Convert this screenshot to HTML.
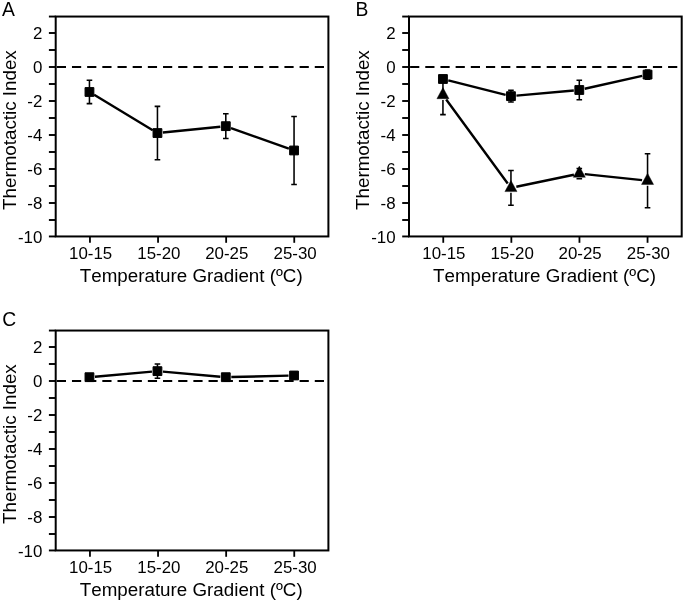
<!DOCTYPE html>
<html><head><meta charset="utf-8"><style>
html,body{margin:0;padding:0;background:#fff;}
body{width:685px;height:602px;overflow:hidden;}
svg{display:block;filter:grayscale(1);}
text{font-family:"Liberation Sans",sans-serif;fill:#000;font-kerning:none;font-feature-settings:"kern" 0;}
.t{font-size:16.9px;}
.ti{font-size:18.8px;}
.ti2{font-size:18.8px;}
.lt{font-size:19.3px;}
</style></head><body>
<svg width="685" height="602" viewBox="0 0 685 602">
<rect width="685" height="602" fill="#fff"/>
<rect x="55.70" y="16.55" width="272.70" height="219.90" fill="none" stroke="#000" stroke-width="2.0"/>
<line x1="48.90" y1="16.55" x2="55.70" y2="16.55" stroke="#000" stroke-width="1.9"/>
<line x1="48.90" y1="33.00" x2="55.70" y2="33.00" stroke="#000" stroke-width="1.9"/>
<line x1="48.90" y1="50.00" x2="55.70" y2="50.00" stroke="#000" stroke-width="1.9"/>
<line x1="48.90" y1="67.00" x2="55.70" y2="67.00" stroke="#000" stroke-width="1.9"/>
<line x1="48.90" y1="84.00" x2="55.70" y2="84.00" stroke="#000" stroke-width="1.9"/>
<line x1="48.90" y1="101.00" x2="55.70" y2="101.00" stroke="#000" stroke-width="1.9"/>
<line x1="48.90" y1="118.00" x2="55.70" y2="118.00" stroke="#000" stroke-width="1.9"/>
<line x1="48.90" y1="135.00" x2="55.70" y2="135.00" stroke="#000" stroke-width="1.9"/>
<line x1="48.90" y1="152.00" x2="55.70" y2="152.00" stroke="#000" stroke-width="1.9"/>
<line x1="48.90" y1="169.00" x2="55.70" y2="169.00" stroke="#000" stroke-width="1.9"/>
<line x1="48.90" y1="186.00" x2="55.70" y2="186.00" stroke="#000" stroke-width="1.9"/>
<line x1="48.90" y1="203.00" x2="55.70" y2="203.00" stroke="#000" stroke-width="1.9"/>
<line x1="48.90" y1="220.00" x2="55.70" y2="220.00" stroke="#000" stroke-width="1.9"/>
<line x1="48.90" y1="236.45" x2="55.70" y2="236.45" stroke="#000" stroke-width="1.9"/>
<text transform="translate(42.30,39.30) scale(1,1.03)" class="t" text-anchor="end">2</text>
<text transform="translate(42.30,73.30) scale(1,1.03)" class="t" text-anchor="end">0</text>
<text transform="translate(42.30,107.30) scale(1,1.03)" class="t" text-anchor="end">-2</text>
<text transform="translate(42.30,141.30) scale(1,1.03)" class="t" text-anchor="end">-4</text>
<text transform="translate(42.30,175.30) scale(1,1.03)" class="t" text-anchor="end">-6</text>
<text transform="translate(42.30,209.30) scale(1,1.03)" class="t" text-anchor="end">-8</text>
<text transform="translate(42.30,243.30) scale(1,1.03)" class="t" text-anchor="end">-10</text>
<line x1="89.95" y1="236.45" x2="89.95" y2="242.80" stroke="#000" stroke-width="1.8"/>
<text transform="translate(90.60,259.20) scale(1,1.03)" class="t" text-anchor="middle">10-15</text>
<line x1="158.05" y1="236.45" x2="158.05" y2="242.80" stroke="#000" stroke-width="1.8"/>
<text transform="translate(158.90,259.20) scale(1,1.03)" class="t" text-anchor="middle">15-20</text>
<line x1="226.15" y1="236.45" x2="226.15" y2="242.80" stroke="#000" stroke-width="1.8"/>
<text transform="translate(226.80,259.20) scale(1,1.03)" class="t" text-anchor="middle">20-25</text>
<line x1="294.25" y1="236.45" x2="294.25" y2="242.80" stroke="#000" stroke-width="1.8"/>
<text transform="translate(295.10,259.20) scale(1,1.03)" class="t" text-anchor="middle">25-30</text>
<text transform="translate(191.20,281.50) scale(1,1.02)" class="ti" text-anchor="middle">Temperature Gradient (ºC)</text>
<text transform="translate(15.90,130.10) rotate(-90) scale(1,1.02)" class="ti2" text-anchor="middle">Thermotactic Index</text>
<line x1="56.80" y1="67.00" x2="327.40" y2="67.00" stroke="#000" stroke-width="2" stroke-dasharray="9.2 5.975"/>
<text transform="translate(2.00,15.80) scale(1,1.03)" class="lt">A</text>
<path d="M94.16,94.83 L152.74,130.20 M162.92,132.49 L220.33,126.71 M230.98,128.01 L288.87,148.62" fill="none" stroke="#000" stroke-width="2.4"/>
<path d="M89.45,91.99 V80.34 M86.65,80.34 H92.25 M89.45,91.99 V103.64 M86.65,103.64 H92.25" stroke="#000" stroke-width="1.55" fill="none"/>
<path d="M157.45,133.05 V106.39 M154.65,106.39 H160.25 M157.45,133.05 V159.70 M154.65,159.70 H160.25" stroke="#000" stroke-width="1.55" fill="none"/>
<path d="M225.80,126.16 V113.75 M223.00,113.75 H228.60 M225.80,126.16 V138.57 M223.00,138.57 H228.60" stroke="#000" stroke-width="1.55" fill="none"/>
<path d="M294.05,150.47 V116.47 M291.25,116.47 H296.85 M294.05,150.47 V184.47 M291.25,184.47 H296.85" stroke="#000" stroke-width="1.55" fill="none"/>
<rect x="85.05" y="87.59" width="8.8" height="8.8" fill="#000" stroke="#000" stroke-width="1" stroke-linejoin="round"/>
<rect x="153.05" y="128.65" width="8.8" height="8.8" fill="#000" stroke="#000" stroke-width="1" stroke-linejoin="round"/>
<rect x="221.40" y="121.76" width="8.8" height="8.8" fill="#000" stroke="#000" stroke-width="1" stroke-linejoin="round"/>
<rect x="289.65" y="146.07" width="8.8" height="8.8" fill="#000" stroke="#000" stroke-width="1" stroke-linejoin="round"/>
<rect x="409.00" y="16.55" width="272.70" height="219.90" fill="none" stroke="#000" stroke-width="2.0"/>
<line x1="402.20" y1="16.55" x2="409.00" y2="16.55" stroke="#000" stroke-width="1.9"/>
<line x1="402.20" y1="33.00" x2="409.00" y2="33.00" stroke="#000" stroke-width="1.9"/>
<line x1="402.20" y1="50.00" x2="409.00" y2="50.00" stroke="#000" stroke-width="1.9"/>
<line x1="402.20" y1="67.00" x2="409.00" y2="67.00" stroke="#000" stroke-width="1.9"/>
<line x1="402.20" y1="84.00" x2="409.00" y2="84.00" stroke="#000" stroke-width="1.9"/>
<line x1="402.20" y1="101.00" x2="409.00" y2="101.00" stroke="#000" stroke-width="1.9"/>
<line x1="402.20" y1="118.00" x2="409.00" y2="118.00" stroke="#000" stroke-width="1.9"/>
<line x1="402.20" y1="135.00" x2="409.00" y2="135.00" stroke="#000" stroke-width="1.9"/>
<line x1="402.20" y1="152.00" x2="409.00" y2="152.00" stroke="#000" stroke-width="1.9"/>
<line x1="402.20" y1="169.00" x2="409.00" y2="169.00" stroke="#000" stroke-width="1.9"/>
<line x1="402.20" y1="186.00" x2="409.00" y2="186.00" stroke="#000" stroke-width="1.9"/>
<line x1="402.20" y1="203.00" x2="409.00" y2="203.00" stroke="#000" stroke-width="1.9"/>
<line x1="402.20" y1="220.00" x2="409.00" y2="220.00" stroke="#000" stroke-width="1.9"/>
<line x1="402.20" y1="236.45" x2="409.00" y2="236.45" stroke="#000" stroke-width="1.9"/>
<text transform="translate(395.60,39.30) scale(1,1.03)" class="t" text-anchor="end">2</text>
<text transform="translate(395.60,73.30) scale(1,1.03)" class="t" text-anchor="end">0</text>
<text transform="translate(395.60,107.30) scale(1,1.03)" class="t" text-anchor="end">-2</text>
<text transform="translate(395.60,141.30) scale(1,1.03)" class="t" text-anchor="end">-4</text>
<text transform="translate(395.60,175.30) scale(1,1.03)" class="t" text-anchor="end">-6</text>
<text transform="translate(395.60,209.30) scale(1,1.03)" class="t" text-anchor="end">-8</text>
<text transform="translate(395.60,243.30) scale(1,1.03)" class="t" text-anchor="end">-10</text>
<line x1="443.25" y1="236.45" x2="443.25" y2="242.80" stroke="#000" stroke-width="1.8"/>
<text transform="translate(443.90,259.20) scale(1,1.03)" class="t" text-anchor="middle">10-15</text>
<line x1="511.35" y1="236.45" x2="511.35" y2="242.80" stroke="#000" stroke-width="1.8"/>
<text transform="translate(512.20,259.20) scale(1,1.03)" class="t" text-anchor="middle">15-20</text>
<line x1="579.45" y1="236.45" x2="579.45" y2="242.80" stroke="#000" stroke-width="1.8"/>
<text transform="translate(580.10,259.20) scale(1,1.03)" class="t" text-anchor="middle">20-25</text>
<line x1="647.55" y1="236.45" x2="647.55" y2="242.80" stroke="#000" stroke-width="1.8"/>
<text transform="translate(648.40,259.20) scale(1,1.03)" class="t" text-anchor="middle">25-30</text>
<text transform="translate(544.50,281.50) scale(1,1.02)" class="ti" text-anchor="middle">Temperature Gradient (ºC)</text>
<text transform="translate(369.20,130.10) rotate(-90) scale(1,1.02)" class="ti2" text-anchor="middle">Thermotactic Index</text>
<line x1="410.10" y1="67.00" x2="680.70" y2="67.00" stroke="#000" stroke-width="2" stroke-dasharray="9.2 5.975"/>
<text transform="translate(355.60,16.00) scale(1,1.03)" class="lt">B</text>
<path d="M446.20,99.44 L507.70,183.43 M516.33,186.75 L573.92,174.71 M584.77,174.16 L642.08,180.16" fill="none" stroke="#000" stroke-width="2.4"/>
<path d="M442.95,87.53 L449.00,98.73 L436.90,98.73 Z" fill="#000" stroke="#000" stroke-width="0.4" stroke-linejoin="round"/>
<path d="M510.95,180.40 L517.00,191.60 L504.90,191.60 Z" fill="#000" stroke="#000" stroke-width="0.4" stroke-linejoin="round"/>
<path d="M579.30,166.12 L585.35,177.32 L573.25,177.32 Z" fill="#000" stroke="#000" stroke-width="0.4" stroke-linejoin="round"/>
<path d="M647.55,173.26 L653.60,184.46 L641.50,184.46 Z" fill="#000" stroke="#000" stroke-width="0.4" stroke-linejoin="round"/>
<path d="M442.95,90.00 V75.40 M440.15,75.40 H445.75 M442.95,100.00 V114.60 M440.15,114.60 H445.75" stroke="#000" stroke-width="1.55" fill="none"/>
<path d="M510.95,182.87 V170.43 M508.15,170.43 H513.75 M510.95,192.87 V205.31 M508.15,205.31 H513.75" stroke="#000" stroke-width="1.55" fill="none"/>
<path d="M579.30,168.59 V168.49 M576.50,168.49 H582.10 M579.30,178.59 V178.69 M576.50,178.69 H582.10" stroke="#000" stroke-width="1.55" fill="none"/>
<path d="M647.55,175.73 V153.70 M644.75,153.70 H650.35 M647.55,185.73 V207.76 M644.75,207.76 H650.35" stroke="#000" stroke-width="1.55" fill="none"/>
<path d="M448.28,80.35 L505.62,94.81 M516.43,95.66 L573.82,90.49 M584.67,88.79 L642.18,75.81" fill="none" stroke="#000" stroke-width="2.4"/>
<path d="M510.95,96.16 V90.31 M508.15,90.31 H513.75 M510.95,96.16 V102.00 M508.15,102.00 H513.75" stroke="#000" stroke-width="1.55" fill="none"/>
<path d="M579.30,90.00 V80.31 M576.50,80.31 H582.10 M579.30,90.00 V99.69 M576.50,99.69 H582.10" stroke="#000" stroke-width="1.55" fill="none"/>
<path d="M647.55,74.60 V70.01 M644.75,70.01 H650.35 M647.55,74.60 V79.19 M644.75,79.19 H650.35" stroke="#000" stroke-width="1.55" fill="none"/>
<rect x="438.55" y="74.60" width="8.8" height="8.8" fill="#000" stroke="#000" stroke-width="1" stroke-linejoin="round"/>
<rect x="506.55" y="91.75" width="8.8" height="8.8" fill="#000" stroke="#000" stroke-width="1" stroke-linejoin="round"/>
<rect x="574.90" y="85.60" width="8.8" height="8.8" fill="#000" stroke="#000" stroke-width="1" stroke-linejoin="round"/>
<rect x="643.15" y="70.20" width="8.8" height="8.8" fill="#000" stroke="#000" stroke-width="1" stroke-linejoin="round"/>
<rect x="55.70" y="330.55" width="272.70" height="219.90" fill="none" stroke="#000" stroke-width="2.0"/>
<line x1="48.90" y1="330.55" x2="55.70" y2="330.55" stroke="#000" stroke-width="1.9"/>
<line x1="48.90" y1="347.00" x2="55.70" y2="347.00" stroke="#000" stroke-width="1.9"/>
<line x1="48.90" y1="364.00" x2="55.70" y2="364.00" stroke="#000" stroke-width="1.9"/>
<line x1="48.90" y1="381.00" x2="55.70" y2="381.00" stroke="#000" stroke-width="1.9"/>
<line x1="48.90" y1="398.00" x2="55.70" y2="398.00" stroke="#000" stroke-width="1.9"/>
<line x1="48.90" y1="415.00" x2="55.70" y2="415.00" stroke="#000" stroke-width="1.9"/>
<line x1="48.90" y1="432.00" x2="55.70" y2="432.00" stroke="#000" stroke-width="1.9"/>
<line x1="48.90" y1="449.00" x2="55.70" y2="449.00" stroke="#000" stroke-width="1.9"/>
<line x1="48.90" y1="466.00" x2="55.70" y2="466.00" stroke="#000" stroke-width="1.9"/>
<line x1="48.90" y1="483.00" x2="55.70" y2="483.00" stroke="#000" stroke-width="1.9"/>
<line x1="48.90" y1="500.00" x2="55.70" y2="500.00" stroke="#000" stroke-width="1.9"/>
<line x1="48.90" y1="517.00" x2="55.70" y2="517.00" stroke="#000" stroke-width="1.9"/>
<line x1="48.90" y1="534.00" x2="55.70" y2="534.00" stroke="#000" stroke-width="1.9"/>
<line x1="48.90" y1="550.45" x2="55.70" y2="550.45" stroke="#000" stroke-width="1.9"/>
<text transform="translate(42.30,353.30) scale(1,1.03)" class="t" text-anchor="end">2</text>
<text transform="translate(42.30,387.30) scale(1,1.03)" class="t" text-anchor="end">0</text>
<text transform="translate(42.30,421.30) scale(1,1.03)" class="t" text-anchor="end">-2</text>
<text transform="translate(42.30,455.30) scale(1,1.03)" class="t" text-anchor="end">-4</text>
<text transform="translate(42.30,489.30) scale(1,1.03)" class="t" text-anchor="end">-6</text>
<text transform="translate(42.30,523.30) scale(1,1.03)" class="t" text-anchor="end">-8</text>
<text transform="translate(42.30,557.30) scale(1,1.03)" class="t" text-anchor="end">-10</text>
<line x1="89.95" y1="550.45" x2="89.95" y2="556.80" stroke="#000" stroke-width="1.8"/>
<text transform="translate(90.60,573.20) scale(1,1.03)" class="t" text-anchor="middle">10-15</text>
<line x1="158.05" y1="550.45" x2="158.05" y2="556.80" stroke="#000" stroke-width="1.8"/>
<text transform="translate(158.90,573.20) scale(1,1.03)" class="t" text-anchor="middle">15-20</text>
<line x1="226.15" y1="550.45" x2="226.15" y2="556.80" stroke="#000" stroke-width="1.8"/>
<text transform="translate(226.80,573.20) scale(1,1.03)" class="t" text-anchor="middle">20-25</text>
<line x1="294.25" y1="550.45" x2="294.25" y2="556.80" stroke="#000" stroke-width="1.8"/>
<text transform="translate(295.10,573.20) scale(1,1.03)" class="t" text-anchor="middle">25-30</text>
<text transform="translate(191.20,595.50) scale(1,1.02)" class="ti" text-anchor="middle">Temperature Gradient (ºC)</text>
<text transform="translate(15.90,444.10) rotate(-90) scale(1,1.02)" class="ti2" text-anchor="middle">Thermotactic Index</text>
<line x1="56.80" y1="381.00" x2="327.40" y2="381.00" stroke="#000" stroke-width="2" stroke-dasharray="9.2 5.975"/>
<text transform="translate(2.20,325.80) scale(1,1.03)" class="lt">C</text>
<path d="M94.93,376.70 L151.97,371.63 M162.93,371.63 L220.32,376.71 M231.30,377.06 L288.55,375.63" fill="none" stroke="#000" stroke-width="2.4"/>
<path d="M157.45,371.14 V364.03 M154.65,364.03 H160.25 M157.45,371.14 V378.25 M154.65,378.25 H160.25" stroke="#000" stroke-width="1.55" fill="none"/>
<path d="M294.05,375.49 V372.09 M291.25,372.09 H296.85 M294.05,375.49 V378.89 M291.25,378.89 H296.85" stroke="#000" stroke-width="1.55" fill="none"/>
<rect x="85.05" y="372.79" width="8.8" height="8.8" fill="#000" stroke="#000" stroke-width="1" stroke-linejoin="round"/>
<rect x="153.05" y="366.74" width="8.8" height="8.8" fill="#000" stroke="#000" stroke-width="1" stroke-linejoin="round"/>
<rect x="221.40" y="372.79" width="8.8" height="8.8" fill="#000" stroke="#000" stroke-width="1" stroke-linejoin="round"/>
<rect x="289.65" y="371.09" width="8.8" height="8.8" fill="#000" stroke="#000" stroke-width="1" stroke-linejoin="round"/>
</svg>
</body></html>
